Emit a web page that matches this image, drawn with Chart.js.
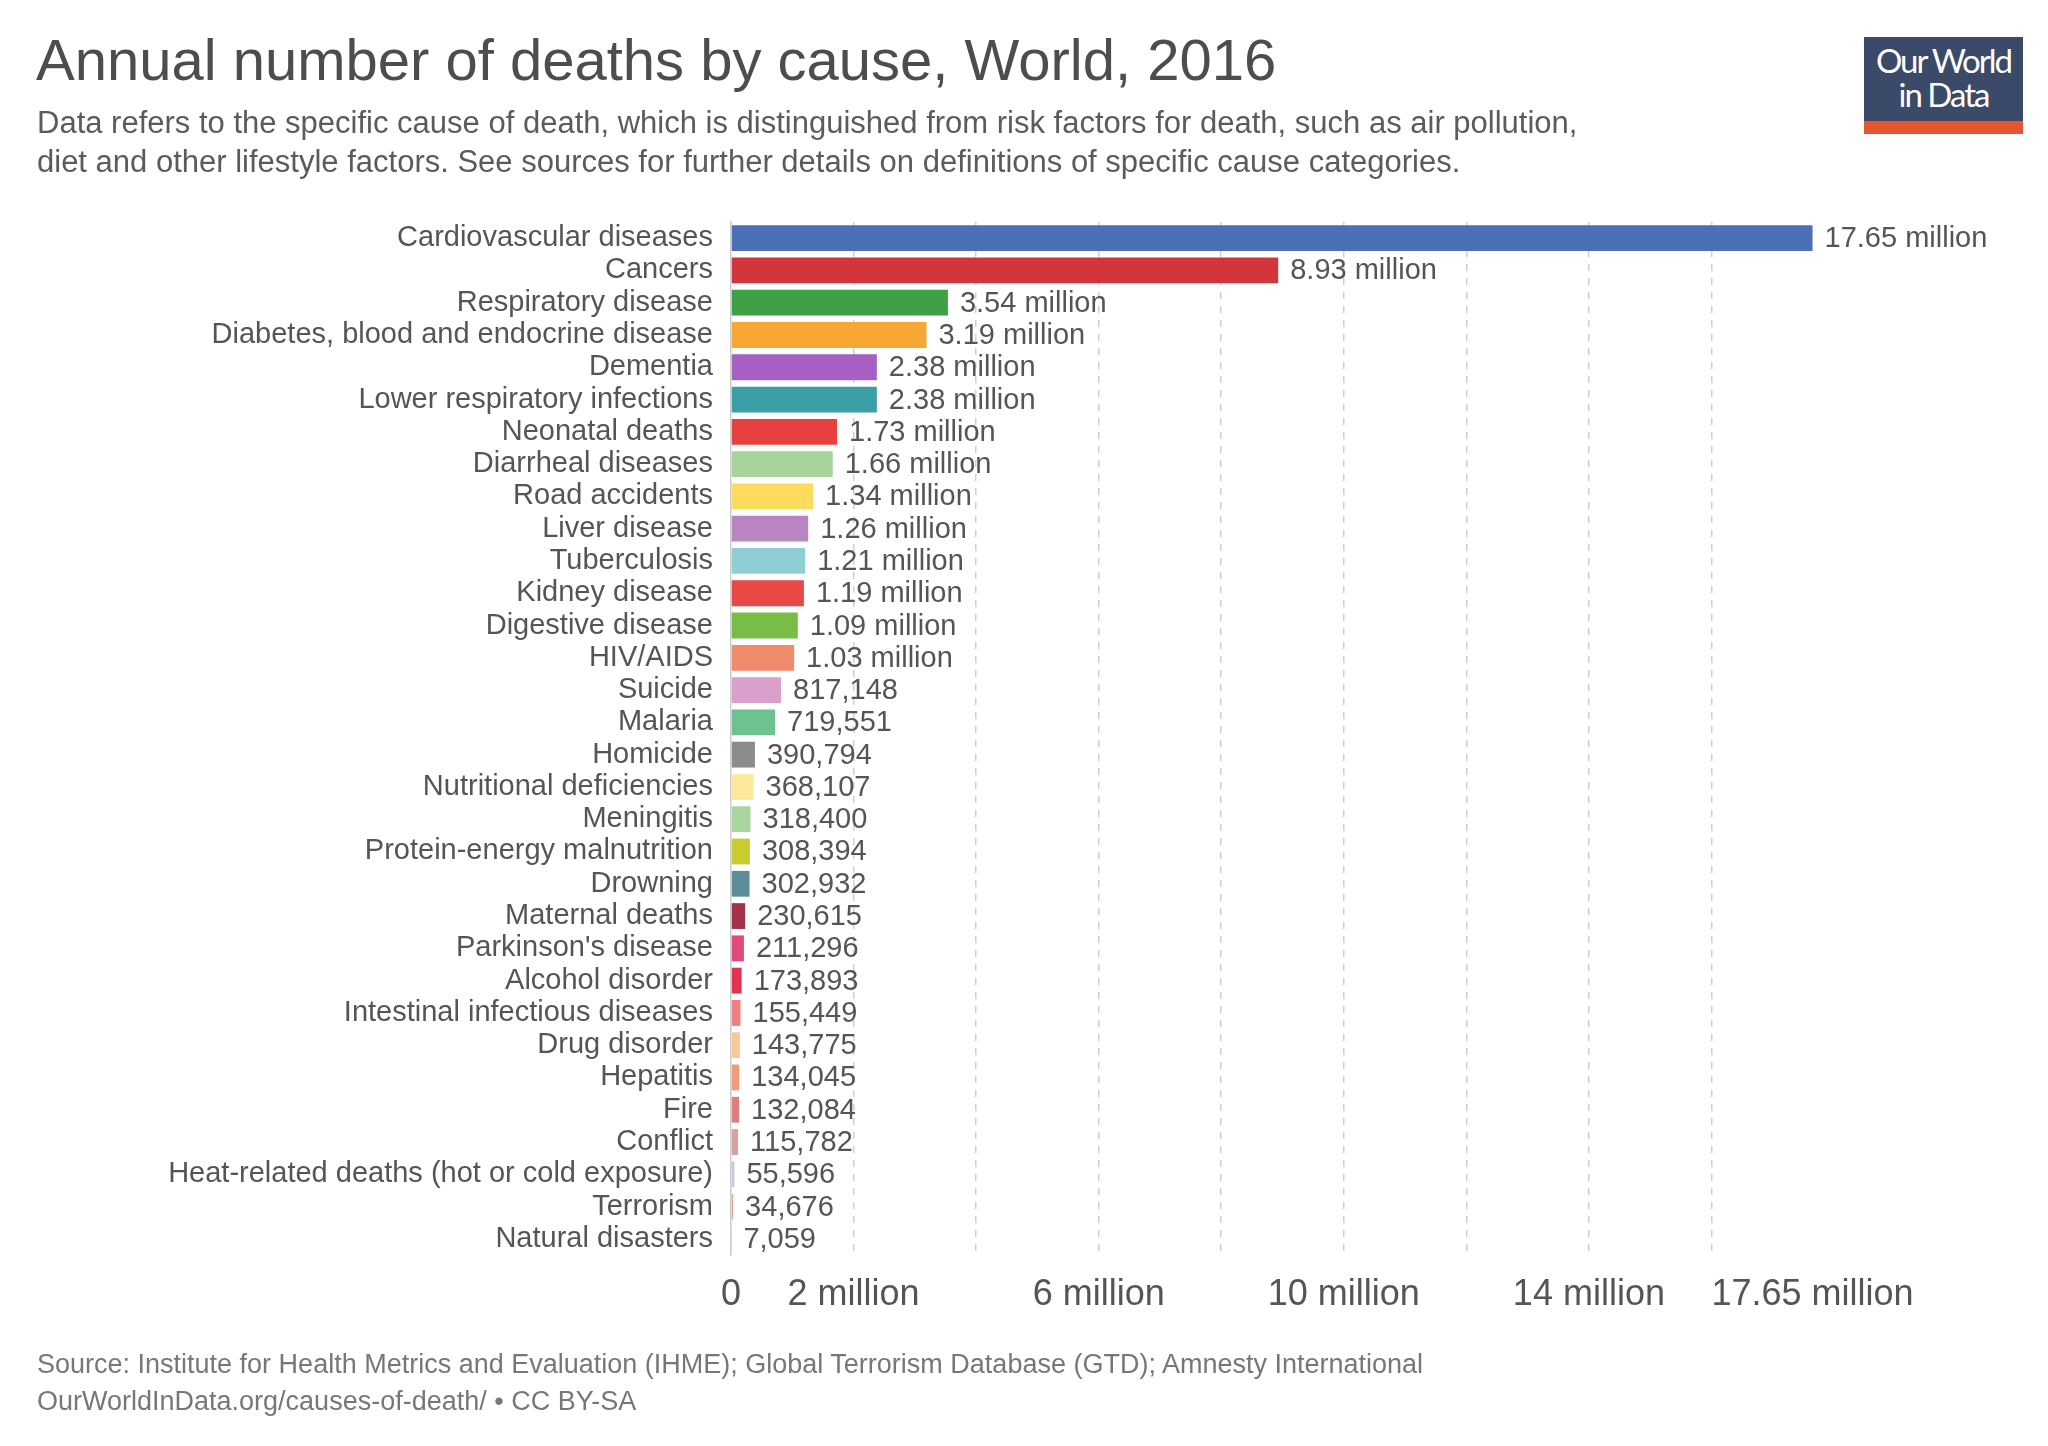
<!DOCTYPE html>
<html><head><meta charset="utf-8">
<script src="https://cdn.jsdelivr.net/npm/chart.js@4"></script>
<style>
body{margin:0;background:#fff;width:2048px;height:1446px;overflow:hidden;position:relative;font-family:"Liberation Sans",Arial,sans-serif;}
#c{position:absolute;left:0;top:0;}
.t{position:absolute;color:#4d4d4d;white-space:nowrap;}
#logo{position:absolute;left:1864px;top:37px;width:159px;height:97px;background:#3b4a68;}
#logo div{color:#fff;font-size:33px;line-height:34px;text-align:center;padding-top:6px;letter-spacing:-2px;font-family:Lato,sans-serif;}
#logo span{position:absolute;left:0;bottom:0;width:100%;height:13px;background:#e5562f;}
</style></head><body>
<canvas id="c" width="2048" height="1446"></canvas>
<div class="t" style="left:36px;top:26px;font-size:58px;">Annual number of deaths by cause, World, 2016</div>
<div class="t" style="left:37px;top:103px;font-size:31px;line-height:39px;color:#5b5b5b">Data refers to the specific cause of death, which is distinguished from risk factors for death, such as air pollution,<br>diet and other lifestyle factors. See sources for further details on definitions of specific cause categories.</div>
<div id="logo"><div>Our World<br>in Data</div><span></span></div>
<div class="t" style="left:37px;top:1346px;font-size:27px;line-height:37px;color:#777">Source: Institute for Health Metrics and Evaluation (IHME); Global Terrorism Database (GTD); Amnesty International<br>OurWorldInData.org/causes-of-death/ • CC BY-SA</div>
<script>
const categories=["Cardiovascular diseases","Cancers","Respiratory disease","Diabetes, blood and endocrine disease","Dementia","Lower respiratory infections","Neonatal deaths","Diarrheal diseases","Road accidents","Liver disease","Tuberculosis","Kidney disease","Digestive disease","HIV/AIDS","Suicide","Malaria","Homicide","Nutritional deficiencies","Meningitis","Protein-energy malnutrition","Drowning","Maternal deaths","Parkinson's disease","Alcohol disorder","Intestinal infectious diseases","Drug disorder","Hepatitis","Fire","Conflict","Heat-related deaths (hot or cold exposure)","Terrorism","Natural disasters"];
const deaths=[17650000,8930000,3540000,3190000,2380000,2380000,1730000,1660000,1340000,1260000,1210000,1190000,1090000,1030000,817148,719551,390794,368107,318400,308394,302932,230615,211296,173893,155449,143775,134045,132084,115782,55596,34676,7059];
const colors=["#4c70b6","#d2363c","#3fa046","#f6a734","#a85fc2","#3a9ea6","#e6403f","#a6d49b","#fddb5d","#b985c1","#8ecfd6","#e84846","#77bd46","#f08c6b","#d8a0cb","#6dc28f","#8c8c8c","#fde99b","#a9d59f","#c9cc2e","#5b8e99","#a3334a","#e24a7b","#e3324f","#ef7f84","#f8c79c","#f09b7f","#e07d7c","#d9a1a1","#c8c8d8","#e8a191","#d0b0b0"];
const tickValues=[0,2,4,6,8,10,12,14,16,17.65];
const tickLabels={0:"0",2:"2 million",6:"6 million",10:"10 million",14:"14 million",17.65:"17.65 million"};
const fmt=v=>v>=1e6?(v/1e6).toFixed(2)+" million":v.toLocaleString("en-US");
const FONT='"Liberation Sans", Arial, sans-serif';
const labelPlugin={id:"lbl",afterDatasetsDraw(ch){const ctx=ch.ctx;const m=ch.getDatasetMeta(0);ctx.save();ctx.font="29px "+FONT;ctx.fillStyle="#555";ctx.textBaseline="middle";m.data.forEach((b,i)=>{ctx.fillText(fmt(deaths[i]),b.x+12,b.y+1);});ctx.restore();}};
new Chart(document.getElementById("c"),{type:"bar",
data:{labels:categories,datasets:[{data:deaths.map(v=>v/1e6),backgroundColor:colors,barPercentage:0.8,categoryPercentage:1}]},
options:{indexAxis:"y",responsive:false,animation:false,
layout:{padding:{left:0,right:214,top:222,bottom:111}},
plugins:{legend:{display:false},tooltip:{enabled:false}},
scales:{
x:{min:0,max:18,afterBuildTicks:s=>{s.ticks=tickValues.map(v=>({value:v}));},
afterFit:s=>{s.height=80;},
border:{display:false,dash:[7,7]},
grid:{color:c=>(c.tick&&c.tick.value>0&&c.tick.value<17)?"#d0d0d0":"rgba(0,0,0,0)",lineWidth:1.5,drawTicks:false,tickLength:0},
ticks:{autoSkip:false,maxRotation:0,padding:18,color:"#555",font:{size:36,family:FONT},callback:v=>tickLabels[v]!==undefined?tickLabels[v]:""}},
y:{afterFit:s=>{s.width=731;},border:{display:true,color:"#ccc",width:1.5},
grid:{display:false},
ticks:{autoSkip:false,padding:10,color:"#555",font:{size:29,family:FONT}}}}},
plugins:[labelPlugin]});
</script>
</body></html>
